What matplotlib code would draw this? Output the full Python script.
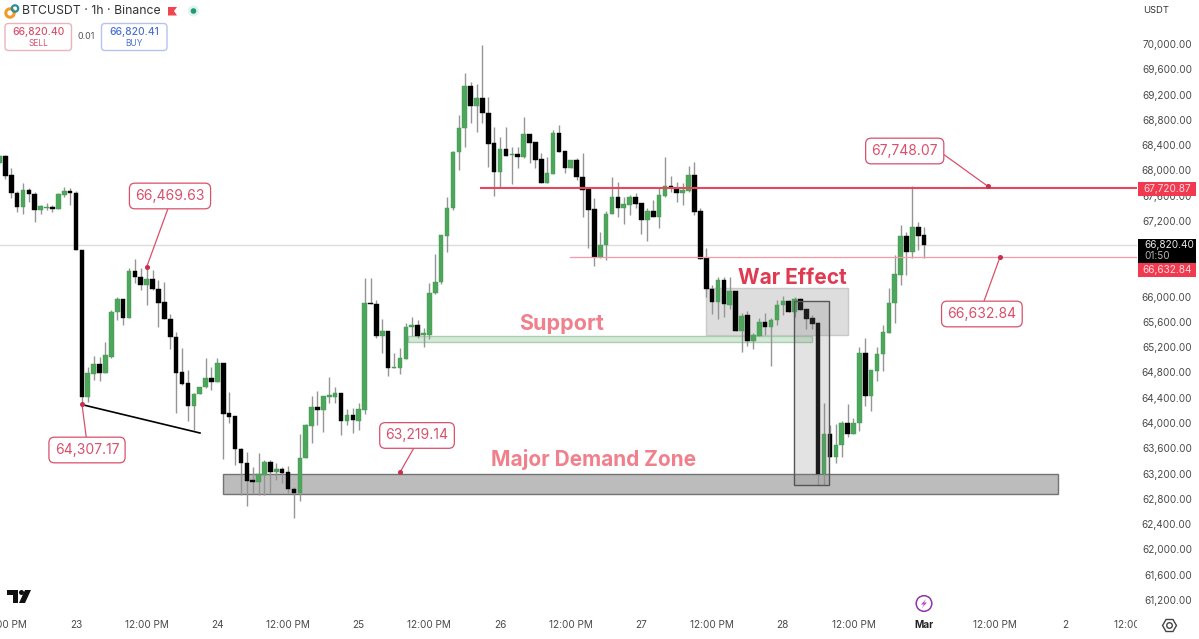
import matplotlib
matplotlib.use("Agg")
import matplotlib.pyplot as plt
from matplotlib.patches import Rectangle, FancyBboxPatch, Circle, Polygon

plt.rcParams['font.family'] = ['Inter', 'DejaVu Sans']

first_hour = -13
opens = [68116,68216,67916,67636,67425,67673,67620,67372,67405,67414,67383,67610,67657,
 67636,66728,64406,64776,64923,64786,65050,65752,65947,65657,66390,66306,66185,66264,66116,65905,65641,65356,64797,64618,64275,64454,64565,64707,
 64644,64934,64142,64100,63583,63362,63088,63066,63177,63378,63230,63267,63214,62950,62887,63441,63958,64249,64206,64417,64417,64460,64032,64111,
 64038,64206,65895,65879,65378,65446,64866,64876,65014,65515,65541,65394,65393,66052,66227,66960,67398,68285,68665,69319,69023,69134,68902,68422,
 67979,68322,68240,68242,68206,68559,68438,68163,67804,67942,68585,68290,68037,68153,67889,67688,67372,66633,66812,67303,67572,67403,67451,67562,
 67467,67213,67340,67261,67593,67736,67715,67646,67673,67916,67340,66596,66116,65910,66259,65868,66085,65462,65694,65304,65377,65583,65515,65625,
 65863,65926,65752,65947,65789,65646,65573,63193,63810,63457,63647,63995,63821,63995,65093,64428,64823,65087,65430,65895,66348,66950,66707,67093,66960]
highs = [68240,68240,68032,67678,67805,67726,67662,67451,67478,67451,67636,67742,67726,
 67678,66728,64892,65061,65040,65288,65789,66000,65960,66449,66591,66449,66470,66422,66264,66238,65720,65446,65182,64839,64470,64575,65024,64892,
 65024,64934,64496,64100,63599,63547,63309,63530,63414,63415,63362,63309,63320,62993,63826,63990,64428,64512,64428,64734,64576,64460,64217,64233,
 64312,66291,66291,65948,65642,65446,65103,65183,65578,65673,65631,65498,66211,66670,66976,67572,68311,68876,69535,69403,69361,69984,69166,68691,
 68522,68691,68374,68374,68849,68559,68438,68269,68216,68638,68717,68290,68163,68190,68269,67715,67556,67029,67356,67889,67820,67583,67609,67636,
 67467,67398,67530,67715,68206,67910,67820,67794,68068,68137,67398,66765,66185,66317,66317,66306,66085,65747,65773,65430,65657,65736,65657,65947,
 66016,65947,66000,65974,65789,65710,65600,64311,63970,63984,64037,64296,64074,65209,65340,64823,65198,65551,66132,66660,67135,67029,67748,67187,67108]
lows = [68080,67858,67557,67346,67309,67504,67187,67309,67380,67346,67383,67583,67451,
 66739,64307,64327,64681,64670,64786,65024,65631,65552,65657,66211,66106,65868,66106,65525,65641,65172,64153,64602,64037,63889,64454,64549,64523,
 64644,63425,63995,63336,62861,62692,62887,62860,62860,62887,63098,63056,62887,62502,62766,63441,63689,63969,63863,64312,64312,63811,63969,63848,
 63890,64143,65879,65341,65103,64750,64866,64771,65014,65378,65341,65198,65324,66042,66195,66712,67372,68005,68364,68754,68612,68754,68047,67599,
 67715,68232,67783,68042,68190,68121,68031,67804,67794,67942,68290,67952,68031,67847,67266,66765,66490,66607,66580,67303,67266,67150,67293,67398,
 66992,66881,67261,67092,67583,67662,67504,67451,67662,67293,66596,66000,65726,65641,65683,65800,65462,65119,65219,65172,65377,65393,64908,65552,
 65710,65752,65683,65789,65483,65483,63019,63019,63457,63361,63457,63784,63821,63878,64269,64195,64670,64823,65430,65588,66185,66343,66607,66739,66607]
closes = [68211,67910,67636,67425,67673,67620,67372,67420,67415,67388,67610,67657,67641,
 66739,64406,64776,64923,64786,65061,65752,65947,65657,66390,66306,66185,66264,66116,65905,65641,65356,64797,64618,64275,64454,64565,64707,64644,
 64934,64142,64100,63583,63362,63088,63066,63177,63378,63230,63267,63214,62950,62887,63441,63958,64249,64206,64417,64428,64460,64032,64111,64048,
 64217,65895,65879,65378,65446,64866,64876,65014,65515,65541,65378,65410,66052,66227,66960,67398,68285,68665,69319,69023,69134,68902,68422,67979,
 68322,68232,68250,68206,68559,68438,68163,67804,67942,68585,68290,68037,68153,67889,67688,67372,66633,66812,67303,67572,67403,67451,67562,67467,
 67213,67340,67261,67593,67736,67715,67646,67678,67916,67340,66596,66116,65910,66259,65879,66085,65462,65684,65304,65377,65583,65515,65625,65863,
 65926,65752,65947,65789,65646,65573,63193,63810,63457,63647,63995,63821,63995,65093,64428,64823,65087,65430,65895,66348,66950,66707,67093,66960,66820]

price_ticks = [p for p in range(61200, 70001, 400) if p not in (66400, 66800)]
date_labels = ['12:00 PM','23','12:00 PM','24','12:00 PM','25','12:00 PM','26','12:00 PM','27',
               '12:00 PM','28','12:00 PM','Mar','12:00 PM','2','12:00 PM']
date_hours = list(range(-12, 181, 12))

last_price = 66820.40
resistance = 67720.87
pivot = 66632.84

W, H = 1199, 639
X0, XS = 76.0, 5.89
YTOP, YS = 70696.5, 15.83
MAIN_W = 1137
xlim = ((0 - X0) / XS, (MAIN_W - X0) / XS)
ylim = (YTOP - YS * H, YTOP)

RED = '#d9506a'
GREY = '#4a4a4a'
fig = plt.figure(figsize=(W / 100, H / 100), dpi=100, facecolor='white')
ax = fig.add_axes([0, 0, MAIN_W / W, 1], zorder=1)
ax.set_xlim(xlim); ax.set_ylim(ylim)
for s in ax.spines.values():
    s.set_visible(False)
ax.set_yticks([])
ax.set_xticks(date_hours)
ax.set_xticklabels(date_labels, fontsize=7.2, color=GREY)
ax.tick_params(axis='x', length=0, pad=-14)
for lab in ax.get_xticklabels():
    if lab.get_text() == 'Mar':
        lab.set_fontweight('bold')
        lab.set_color('#222222')

hours = list(range(first_hour, first_hour + len(opens)))
assert len(opens) == len(highs) == len(lows) == len(closes)

# zones beneath the candles
ax.add_patch(Rectangle((24.96, 62884), 141.74, 309, fc='#bcbcbc', ec='#737373', lw=1, zorder=1))
ax.add_patch(Rectangle((107, 65393), 24.1, 744, fc='#dcdcdc', ec='#c8c8c8', lw=1, zorder=1, alpha=0.95))
ax.add_patch(Rectangle((56.4, 65275), 68.6, 110, fc='#cfe6d2', ec='#9ccaa4', lw=1, zorder=1.2, alpha=0.85))
ax.axhline(last_price, color='#dcdcdc', lw=1, zorder=1)

up = [c >= o for o, c in zip(opens, closes)]
ax.vlines(hours, lows, highs, color='#959595', lw=1, zorder=2)
ax.bar(hours, [abs(c - o) + 12 for o, c in zip(opens, closes)],
       bottom=[min(o, c) for o, c in zip(opens, closes)], width=0.78,
       color=['#4ea65c' if u else '#000000' for u in up],
       edgecolor=['#3d9a4e' if u else '#000000' for u in up], linewidth=0.3, zorder=3)

ax.add_patch(Rectangle((121.9, 63019), 6.0, 2913, fc='#808080', ec='none', alpha=0.22, zorder=4))
ax.add_patch(Rectangle((121.9, 63019), 6.0, 2913, fc='none', ec='#555555', lw=1, zorder=4))

ax.plot([68.8, xlim[1]], [resistance, resistance], color='#e4485e', lw=1.5, zorder=4)
ax.plot([83.9, xlim[1]], [pivot, pivot], color='#f29aa7', lw=0.9, zorder=4)
ax.plot([1.3, 21.05], [64285, 63842], color='black', lw=1.2, zorder=4)

ax.text(82.5, 65570, 'Support', color='#f0808c', fontsize=15.5, fontweight='bold', ha='center', va='center', zorder=6)
ax.text(121.6, 66297, 'War Effect', color='#e03a52', fontsize=15, fontweight='bold', ha='center', va='center', zorder=6)
ax.text(87.9, 63415, 'Major Demand Zone', color='#f0808c', fontsize=15, fontweight='bold', ha='center', va='center', zorder=6)

callouts = [
    ('66,469.63', 12.0, 66469.63, 15.96, 67594, (0.5, 0)),
    ('64,307.17', 1.0, 64307.17, 1.87, 63573, (0.5, 1)),
    ('63,219.14', 55.0, 63219.14, 57.9, 63803, (0.5, 0)),
    ('67,748.07', 154.8, 67748.07, 140.7, 68306, (1, 0.55)),
    ('66,632.84', 156.9, 66632.84, 153.8, 65726, (0.5, 1)),
]
for txt, hx, py, tx, ty, rel in callouts:
    ax.annotate(txt, xy=(hx, py), xytext=(tx, ty), ha='center', va='center', color=RED, fontsize=10,
                bbox=dict(boxstyle='round,pad=0.42,rounding_size=0.4', fc='white', ec=RED, lw=0.9),
                arrowprops=dict(arrowstyle='-', color=RED, lw=0.9, shrinkA=0, shrinkB=0, relpos=rel), zorder=7)
    ax.plot([hx], [py], 'o', ms=2.6, color='#c9304e', zorder=8)

# price scale
panel = fig.add_axes([MAIN_W / W, 0, 1 - MAIN_W / W, 1], zorder=2, facecolor='white')
panel.set_xlim(0, 1); panel.set_ylim(ylim)
for s in panel.spines.values():
    s.set_visible(False)
panel.set_xticks([])
panel.set_yticks(price_ticks)
panel.set_yticklabels([f'{v:,.2f}' for v in price_ticks], fontsize=7.2, color=GREY)
panel.tick_params(axis='y', length=0, pad=-39.6)

# UI overlay, in pixels
ov = fig.add_axes([0, 0, 1, 1], zorder=3)
ov.set_xlim(0, W); ov.set_ylim(H, 0); ov.axis('off'); ov.patch.set_alpha(0)

ov.add_patch(Rectangle((1137.5, 182), 58, 13.5, fc='#ef3a50', ec='none'))
ov.text(1167.5, 188.8, f'{resistance:,.2f}', color='#ffd9dd', fontsize=7.2, ha='center', va='center')
ov.add_patch(Rectangle((1137.5, 239), 58, 24, fc='black', ec='none'))
ov.text(1144, 245, f'{last_price:,.2f}', color='#e8e8e8', fontsize=7.2, ha='left', va='center')
ov.text(1144, 256, '01:50', color='#b5b5b5', fontsize=7.2, ha='left', va='center')
ov.add_patch(Rectangle((1137.5, 263), 58, 13.5, fc='#ef3a50', ec='none'))
ov.text(1167.5, 270, f'{pivot:,.2f}', color='#ffd9dd', fontsize=7.2, ha='center', va='center')
ov.text(1156, 10.5, 'USDT', color='#333333', fontsize=6.8, ha='center', va='center')

ov.text(22, 11.5, 'BTCUSDT · 1h · Binance', color='#333333', fontsize=8.8, ha='left', va='center')
ov.add_patch(Circle((10, 13), 4.2, fc='none', ec='#f09a28', lw=2.2))
ov.add_patch(Circle((15, 8.5), 3.2, fc='none', ec='#2a8f9a', lw=1.6))
ov.add_patch(Polygon([(168, 7), (177, 7), (174, 11), (177, 15.5), (168, 15.5)], fc='#f0444f', ec='none'))
ov.add_patch(Circle((193.5, 11), 5.5, fc='#dff2ec', ec='none'))
ov.add_patch(Circle((193.5, 11), 2.8, fc='#1f9a78', ec='none'))

for (x0, x1, col, ecol, price, name) in [(5, 71.5, '#d9506a', '#eab4be', '66,820.40', 'SELL'),
                                         (101.5, 167, '#4a70d4', '#b7c4ea', '66,820.41', 'BUY')]:
    ov.add_patch(FancyBboxPatch((x0, 23.5), x1 - x0, 27, boxstyle='round,pad=0,rounding_size=3.5',
                                fc='white', ec=ecol, lw=1))
    ov.text((x0 + x1) / 2, 32, price, color=col, fontsize=7.4, ha='center', va='center', fontweight='medium')
    ov.text((x0 + x1) / 2, 43, name, color=col, fontsize=6, ha='center', va='center')
ov.text(86.5, 36.5, '0.01', color='#555555', fontsize=6.4, ha='center', va='center')

# TradingView mark
ov.add_patch(Polygon([(7, 590), (18, 590), (18, 603), (13, 603), (13, 595), (7, 595)], fc='#111111', ec='none'))
ov.add_patch(Circle((21.5, 592.5), 2.5, fc='#111111', ec='none'))
ov.add_patch(Polygon([(25, 590), (31, 590), (25, 603), (19, 603)], fc='#111111', ec='none'))

# lightning badge
ov.add_patch(Circle((924, 603.5), 7.8, fc='white', ec='#8e35a8', lw=1.1))
ov.add_patch(Polygon([(926.5, 598.5), (921, 604.5), (924, 604.5), (921.5, 608.5), (927, 602.5), (924, 602.5)],
                     fc='#b24bc8', ec='none'))

# settings gear
ov.plot([1168.5], [624.5], marker='H', ms=10, mfc='none', mec='#444444', mew=1)
ov.plot([1168.5], [624.5], marker='o', ms=4, mfc='none', mec='#444444', mew=1)

fig.savefig('out.png', dpi=100, facecolor='white')
